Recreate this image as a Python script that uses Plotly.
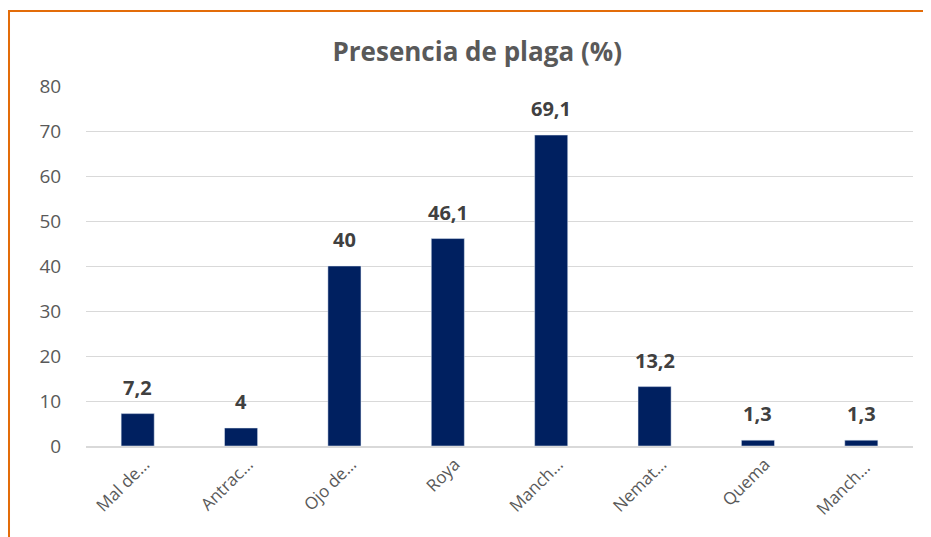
import plotly.graph_objects as go

# Chart data
categories = ["Mal de…", "Antrac…", "Ojo de…", "Roya", "Manch…", "Nemat…", "Quema", "Manch… "]
presence = [7.2, 4, 40, 46.1, 69.1, 13.2, 1.3, 1.3]
value_labels = ["7,2", "4", "40", "46,1", "69,1", "13,2", "1,3", "1,3"]
y_ticks = [0, 10, 20, 30, 40, 50, 60, 70, 80]

FONT = "Open Sans"
GREY = "#595959"

fig = go.Figure(
    go.Bar(
        x=categories,
        y=presence,
        marker=dict(color="#002060"),
        cliponaxis=False,
        hoverinfo="x+y",
    )
)

# value labels sit a little above each bar, like Excel's data labels
for cat, val, lab in zip(categories, presence, value_labels):
    fig.add_annotation(
        x=cat,
        y=val,
        text=f"<b>{lab}</b>",
        showarrow=False,
        yanchor="bottom",
        yshift=11,
        font=dict(family=FONT, size=20, color="#404040"),
    )

# the page body has an 8px margin, so the margins below are shifted by that
fig.update_layout(
    width=931,
    height=537,
    margin=dict(l=78, r=26, t=78, b=99, autoexpand=False),
    paper_bgcolor="white",
    plot_bgcolor="white",
    bargap=0.68,
    showlegend=False,
    title=dict(
        text="<b>Presencia de plaga (%)</b>",
        x=0.504,
        xanchor="center",
        yref="container",
        y=0.918,
        yanchor="middle",
        font=dict(family=FONT, size=26, color=GREY),
    ),
    xaxis=dict(
        tickangle=-45,
        tickfont=dict(family=FONT, size=17, color=GREY),
        ticklabelshift=7,
        showgrid=False,
        showline=True,
        linecolor="#d9d9d9",
        linewidth=1.5,
        ticks="",
        automargin=False,
    ),
    yaxis=dict(
        range=[0, 80],
        tickvals=y_ticks,
        tickfont=dict(family=FONT, size=19, color=GREY),
        showgrid=True,
        gridcolor="#d9d9d9",
        gridwidth=1,
        zeroline=False,
        ticks="outside",
        ticklen=20,
        tickcolor="white",
        automargin=False,
    ),
    shapes=[
        dict(
            type="rect",
            xref="paper",
            yref="paper",
            x0=-0.0931,
            x1=1.2,
            y0=-0.5,
            y1=1.2083,
            line=dict(color="#E36C09", width=2),
            fillcolor="rgba(0,0,0,0)",
            layer="below",
        )
    ],
)

fig.write_html("out.html")
